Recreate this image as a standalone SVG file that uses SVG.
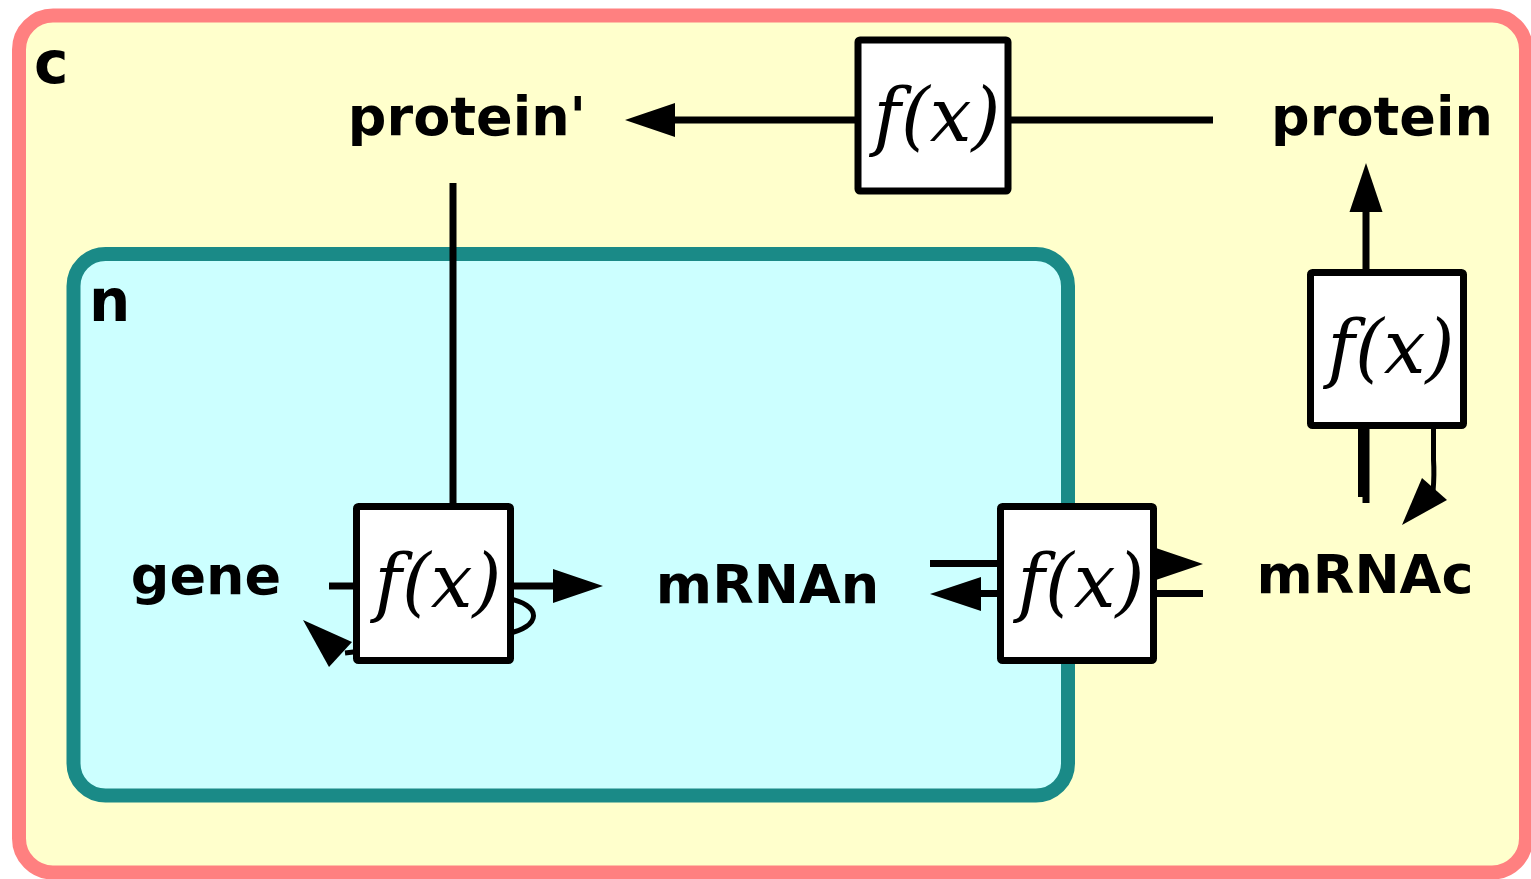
<svg xmlns="http://www.w3.org/2000/svg" width="1531" height="879" viewBox="0 0 1531 879">
<defs>
<style>
.lbl{font-family:"DejaVu Sans","Liberation Sans",sans-serif;font-weight:bold;font-size:54px;fill:#000;text-anchor:middle}
.cmp{font-family:"DejaVu Sans","Liberation Sans",sans-serif;font-weight:bold;font-size:58px;fill:#000}
.fx{font-family:"DejaVu Serif","Liberation Serif",serif;font-style:italic;font-size:74px;fill:#000;text-anchor:middle}
.box{fill:#fff;stroke:#000;stroke-width:7;stroke-linejoin:round}
.ln{fill:none;stroke:#000;stroke-width:7}
.thin{fill:none;stroke:#000;stroke-width:5}
.ah{fill:#000;stroke:none}
</style>
</defs>
<g id="compartment-c">
<rect x="19" y="15.5" width="1507" height="857" rx="34" ry="34" fill="#ffffcc" stroke="#ff8080" stroke-width="14"/>
<text class="cmp" x="34" y="83">c</text>
</g>
<g id="compartment-n">
<rect x="73.5" y="254" width="994.5" height="541.5" rx="32" ry="32" fill="#ccffff" stroke="#1a8a87" stroke-width="14"/>
<text class="cmp" x="89" y="321">n</text>
</g>
<g id="connectors">
<line class="ln" x1="1213" y1="120" x2="672" y2="120"/>
<polygon class="ah" points="625,120 675,103 675,137"/>
<line class="ln" x1="453" y1="183" x2="453" y2="506"/>
<line class="ln" x1="329" y1="586" x2="360" y2="586"/>
<line class="ln" x1="505" y1="586" x2="556" y2="586"/>
<polygon class="ah" points="603,586 553,569 553,603"/>
<path class="thin" d="M505,598 C544,604 542,628 505,634 L345,653"/>
<polygon class="ah" points="303,620 329,667 352,642"/>
<line class="ln" x1="930" y1="563.5" x2="1156" y2="563.5"/>
<polygon class="ah" points="1203,564 1153,547 1153,581"/>
<line class="ln" x1="1203" y1="593.5" x2="978" y2="593.5"/>
<polygon class="ah" points="930,594 981,577 981,611"/>
<line class="ln" x1="1366" y1="503" x2="1366" y2="209"/>
<line class="ln" x1="1361.5" y1="425" x2="1361.5" y2="497"/>
<polygon class="ah" points="1366,163 1349.5,212 1382.5,212"/>
<path class="thin" d="M1433.5,425 L1433.5,460 Q1434.5,474 1433,492"/>
<polygon class="ah" points="1402,525 1422,478 1447,500"/>
</g>
<g id="node-protein-prime"><text class="lbl" x="467" y="135">protein'</text></g>
<g id="node-protein"><text class="lbl" x="1382" y="135">protein</text></g>
<g id="node-gene"><text class="lbl" x="206" y="594">gene</text></g>
<g id="node-mRNAn"><text class="lbl" x="767.5" y="603">mRNAn</text></g>
<g id="node-mRNAc"><text class="lbl" x="1365" y="593">mRNAc</text></g>
<g id="proc-modify">
<rect class="box" x="858" y="40" width="150" height="151" rx="2"/>
<text class="fx" x="937" y="141">f(x)</text>
</g>
<g id="proc-transcription">
<rect class="box" x="356.5" y="506.5" width="154" height="154" rx="2"/>
<text class="fx" x="438" y="607">f(x)</text>
</g>
<g id="proc-transport">
<rect class="box" x="1000.5" y="506.5" width="153" height="154" rx="2"/>
<text class="fx" x="1081" y="607">f(x)</text>
</g>
<g id="proc-translation">
<rect class="box" x="1310.5" y="272.5" width="153" height="153" rx="2"/>
<text class="fx" x="1391" y="373">f(x)</text>
</g>
</svg>
